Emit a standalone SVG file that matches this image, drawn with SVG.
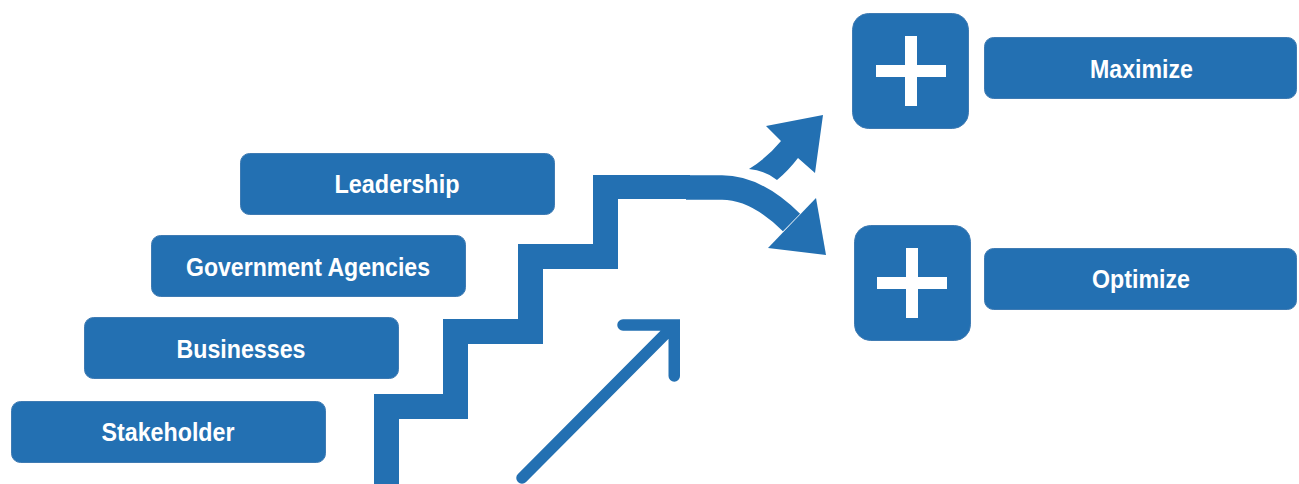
<svg xmlns="http://www.w3.org/2000/svg" width="1299" height="484" viewBox="0 0 1299 484">
<style>
.box{fill:#2370b2;stroke:#3f7bb3;stroke-width:1}
.lbl{font-family:"Liberation Sans",Arial,sans-serif;font-weight:bold;font-size:26px;fill:#ffffff;text-anchor:middle}
.blue{fill:#2370b2}
.plus{fill:#ffffff}
</style>
<rect width="1299" height="484" fill="#ffffff"/>
<g id="leadership">
<rect class="box" x="240.5" y="153.5" width="314" height="61" rx="9"/>
<text class="lbl" x="397" y="193" textLength="125" lengthAdjust="spacingAndGlyphs">Leadership</text>
</g>
<g id="government-agencies">
<rect class="box" x="151.5" y="235.5" width="314" height="61" rx="9"/>
<text class="lbl" x="308" y="276" textLength="244" lengthAdjust="spacingAndGlyphs">Government Agencies</text>
</g>
<g id="businesses">
<rect class="box" x="84.5" y="317.5" width="314" height="61" rx="9"/>
<text class="lbl" x="241" y="358" textLength="129" lengthAdjust="spacingAndGlyphs">Businesses</text>
</g>
<g id="stakeholder">
<rect class="box" x="11.5" y="401.5" width="314" height="61" rx="9"/>
<text class="lbl" x="168" y="441" textLength="133" lengthAdjust="spacingAndGlyphs">Stakeholder</text>
</g>
<g id="plus-1">
<rect class="box" x="852.5" y="13.5" width="116" height="115" rx="16"/>
<rect class="plus" x="905" y="36" width="12" height="70"/>
<rect class="plus" x="876" y="65" width="70" height="12"/>
</g>
<g id="maximize">
<rect class="box" x="984.5" y="37.5" width="312" height="61" rx="9"/>
<text class="lbl" x="1141.5" y="78" textLength="103" lengthAdjust="spacingAndGlyphs">Maximize</text>
</g>
<g id="plus-2">
<rect class="box" x="854.5" y="225.5" width="116" height="115" rx="16"/>
<rect class="plus" x="906" y="248" width="12" height="70"/>
<rect class="plus" x="877" y="277" width="70" height="12"/>
</g>
<g id="optimize">
<rect class="box" x="984.5" y="248.5" width="312" height="61" rx="9"/>
<text class="lbl" x="1141" y="288" textLength="98" lengthAdjust="spacingAndGlyphs">Optimize</text>
</g>
<g id="connectors">
<polygon class="blue" points="374,484 374,394 443,394 443,319 518,319 518,244 593,244 593,175 690,175 690,199 618,199 618,269 543,269 543,344 468,344 468,419 399,419 399,484"/>
<path d="M686 187.5 L722 187.5 Q756 187.5 791.5 222.5" fill="none" stroke="#2370b2" stroke-width="24.5"/>
<polygon class="blue" points="816,198 826,255 768,248"/>
<path class="blue" d="M749 169 Q767 158 781 141 L766 126 L823 115 L815 173 L798 158 Q788 171 777 180 Q766 171 749 169 Z"/>
<path d="M623 325 H674.25 V376 M674.25 325 L522 478" fill="none" stroke="#2370b2" stroke-width="11.5" stroke-linecap="round" stroke-linejoin="miter"/>
</g>
</svg>
